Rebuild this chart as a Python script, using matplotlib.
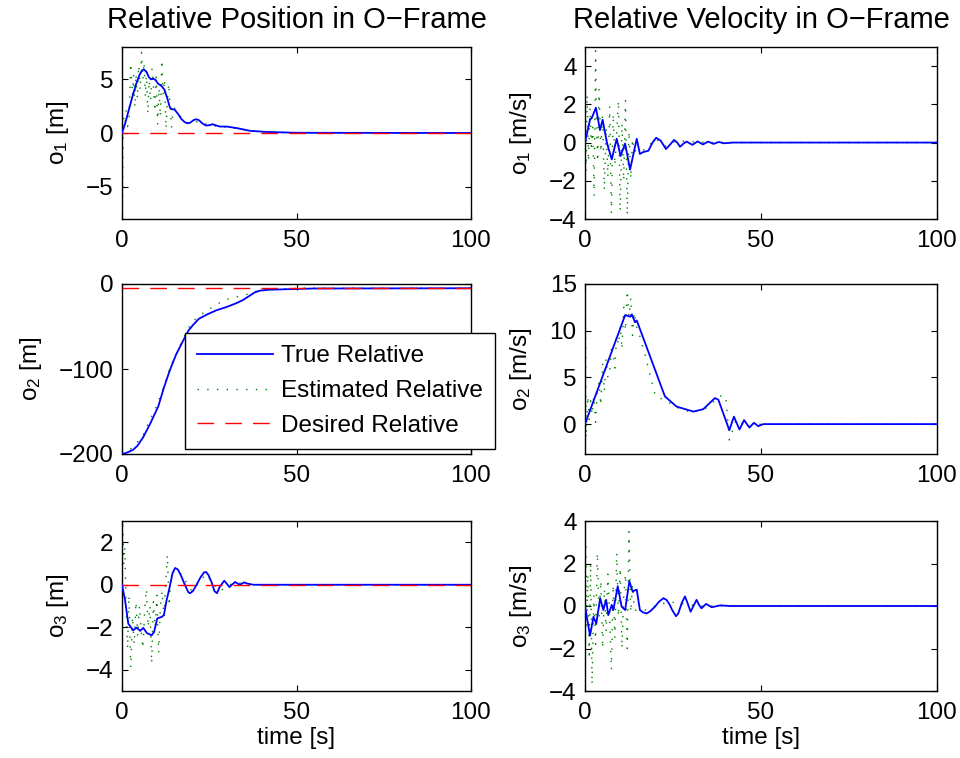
import matplotlib
matplotlib.use("Agg")
import matplotlib.pyplot as plt
import numpy as np

plt.rcParams['font.family'] = ['Liberation Sans', 'DejaVu Sans']
plt.rcParams['mathtext.fontset'] = 'custom'
plt.rcParams['mathtext.rm'] = 'Liberation Sans'
plt.rcParams['mathtext.it'] = 'Liberation Sans'
plt.rcParams['font.size'] = 17.5

# ---- relative position, o1 ----
pos1_t = [0, 1, 2, 3, 4, 5, 5.8, 6.3, 7, 7.7, 8.3, 9, 9.7, 10.3, 11.4, 12.2, 13, 13.7, 14.3, 15, 16, 17, 18, 18.8, 19.5, 20.5, 21.3, 22, 23, 24, 25, 26, 27, 28, 30, 33, 36.7, 41.5, 50, 100]
pos1_true = [0, 1.0, 2.2, 3.4, 4.5, 5.4, 5.85, 5.9, 5.7, 5.2, 5.0, 5.05, 4.9, 4.6, 4.35, 4.0, 3.2, 2.4, 2.2, 2.2, 1.8, 1.3, 1.0, 0.9, 0.95, 1.2, 1.28, 1.2, 0.9, 0.7, 0.72, 0.82, 0.7, 0.6, 0.6, 0.45, 0.2, 0.1, 0.02, 0.0]
pos1_est_t = [0, 0.1, 0.3, 0.5, 0.8, 1.2, 1.6, 2.0, 2.5, 3.0, 3.3, 3.7, 4.0, 4.4, 4.8, 5.2, 5.6, 6.0, 6.3, 6.7, 7.0, 7.4, 7.8, 8.2, 8.6, 9.0, 9.4, 9.8, 10.2, 10.6, 11.0, 11.4, 11.8, 12.2, 12.6, 13.0, 13.4, 13.8, 14.2, 14.6, 15, 16, 18, 20, 22, 25, 28, 31, 35, 40, 50, 100]
pos1_est = [0, -7.5, -1.0, 1.5, 0.5, 2.2, 0.6, 1.0, 6.5, 3.5, 5.4, 2.4, 5.5, 3.2, 6.3, 4.0, 7.5, 5.0, 6.6, 3.4, 5.8, 1.8, 4.9, 3.0, 6.0, 4.5, 2.0, 5.2, 0.8, 4.2, 1.5, 6.8, 3.6, 5.0, 0.4, 3.0, 4.6, 2.4, 0.5, 2.0, 2.3, 1.9, 1.0, 0.9, 1.1, 0.7, 0.6, 0.5, 0.3, 0.1, 0.0, 0.0]
pos1_des = [0, 0]

# ---- relative position, o2 ----
pos2_t = [0, 1, 2.2, 3.2, 4.5, 6.1, 8, 10.4, 12, 13.75, 15.5, 17.6, 19, 20.4, 22, 24.3, 27, 30, 32.5, 34.6, 36.5, 38, 39.5, 42, 45.8, 55, 100]
pos2_true = [-200, -199, -197, -195, -190, -180, -165, -144, -122, -101, -83, -66, -55, -48, -41, -36, -31, -27, -23, -19, -14, -10, -7.8, -6.8, -6.3, -5.3, -5]
pos2_est_t = [0, 1, 2, 3, 4, 5, 6, 8, 10, 12, 14, 16, 18, 20, 22, 24, 26, 28, 30, 32, 34, 36, 38, 40, 45, 50, 100]
pos2_est = [-200, -198, -196, -192, -188, -183, -178, -160, -143, -120, -96, -78, -60, -45, -38, -32, -27, -22, -18, -16, -14, -12, -9, -7, -6, -5, -5]
pos2_des = [-4.7, -4.7]

# ---- relative position, o3 ----
pos3_t = [0, 0.86, 1.8, 3.2, 4.2, 5.2, 6.1, 7.1, 8.5, 9.2, 10.1, 11.4, 12, 12.8, 13.4, 14.5, 15.2, 16, 17, 18, 19, 19.5, 20.3, 21.2, 22.5, 23.5, 24.1, 24.8, 25.7, 26.5, 27.2, 28, 29.3, 30, 30.8, 31.5, 32.4, 33.2, 33.8, 35, 36, 37.7, 100]
pos3_true = [0, -0.71, -1.83, -2.14, -2.02, -2.17, -2.03, -2.27, -2.38, -2.22, -1.59, -1.51, -1.43, -0.71, -0.3, 0.55, 0.79, 0.72, 0.4, 0.0, -0.35, -0.4, -0.3, -0.05, 0.35, 0.58, 0.6, 0.45, 0.1, -0.3, -0.4, -0.1, 0.19, 0.05, -0.11, 0.0, 0.13, 0.05, 0.0, 0.11, 0.05, 0.0, 0.0]
pos3_est_t = [0, 0.2, 0.5, 0.8, 1.2, 1.6, 2.0, 2.5, 3.0, 3.5, 4.0, 4.5, 5.0, 5.5, 6.0, 6.5, 7.0, 7.5, 8.0, 8.5, 9.0, 9.5, 10.0, 10.5, 11.0, 11.5, 12.0, 12.5, 13.0, 13.5, 14.0, 15, 17, 20, 24, 28, 32, 36, 40, 100]
pos3_est = [0, 2.8, 1.0, 1.8, -1.2, -3.0, -0.5, -3.9, -1.5, -2.8, -0.8, -2.4, -1.0, -2.2, -3.0, -1.2, -0.2, -2.0, -1.0, -3.7, -0.8, -2.0, -0.5, -3.2, -1.0, -0.3, -1.5, 0.0, 1.4, -1.0, 0.3, 0.7, 0.5, -0.3, 0.5, -0.3, 0.1, 0.05, 0.0, 0.0]
pos3_des = [0, 0]

# ---- relative velocity, o1 ----
vel1_t = [0, 1.42, 1.9, 3.1, 4.26, 5.0, 6.3, 7.6, 9.0, 10.1, 11.4, 12.8, 14.7, 15.6, 16.5, 18, 19.2, 20.2, 21.5, 23, 24.2, 25.3, 26.2, 27, 28, 28.9, 30.5, 32, 33.5, 35, 36.5, 38, 39.5, 42, 100]
vel1_true = [0, 1.19, 1.28, 1.82, 0.65, 1.19, -0.07, -0.88, 0.2, -0.7, -0.05, -1.42, 0.2, -0.6, -0.5, -0.43, 0.0, 0.25, 0.1, -0.34, -0.1, 0.14, 0.0, -0.22, -0.05, 0.05, -0.12, 0.06, -0.1, 0.05, -0.07, 0.03, -0.04, 0.0, 0.0]
vel1_est_t = [0, 0.3, 0.6, 1.0, 1.4, 1.8, 2.2, 2.6, 3.0, 3.3, 3.6, 4.0, 4.5, 5.0, 5.5, 6.0, 6.5, 7.0, 7.5, 8.0, 8.5, 9.0, 9.5, 10.0, 10.5, 11.0, 11.5, 12.0, 12.5, 13.0, 13.5, 14.0, 15, 17, 20, 23, 26, 30, 35, 40, 45, 100]
vel1_est = [0, -1.5, 2.5, -1.0, 1.8, -0.2, 0.8, -2.8, 4.8, 0.5, -1.0, 2.8, -0.5, 1.5, -2.5, 0.8, -1.8, 1.9, -3.7, 1.5, -1.2, 0.5, 2.2, -3.6, 1.0, -2.0, 2.2, -3.8, 0.6, -1.9, 0.2, -0.5, -0.3, -0.4, 0.2, -0.2, 0.1, 0.05, 0.0, 0.0, 0.0, 0.0]

# ---- relative velocity, o2 ----
vel2_t = [0, 11.4, 12.8, 13.3, 14.2, 14.7, 22.7, 26, 30.8, 33.6, 36.9, 37.9, 41, 42.3, 43.9, 45.2, 46.7, 48, 49.2, 50.6, 100]
vel2_true = [0, 11.67, 11.5, 11.75, 10.9, 11.1, 2.97, 1.88, 1.34, 1.6, 2.79, 2.6, -0.65, 0.8, -0.58, 0.43, -0.37, 0.14, -0.22, 0.0, 0.0]
vel2_est_t = [0, 0.1, 0.3, 0.8, 1.2, 1.6, 2.0, 2.5, 3.0, 3.5, 4.0, 4.5, 5.0, 5.5, 6.0, 6.5, 7.0, 7.5, 8.0, 8.5, 9.0, 9.5, 10.0, 10.5, 11.0, 11.5, 12.0, 12.5, 13.0, 13.5, 14.0, 14.5, 15, 17, 20, 23, 26, 30, 34, 36, 38, 40, 41, 43, 46, 50, 100]
vel2_est = [0, 14.0, -1.5, 3.0, 0.5, 2.5, 1.0, 3.0, 0.2, 3.5, 4.5, 2.0, 6.5, 3.5, 7.0, 5.0, 5.5, 8.0, 7.5, 6.0, 9.5, 8.5, 10.5, 8.0, 12.5, 10.0, 14.3, 11.5, 13.5, 9.5, 12.0, 10.5, 10.2, 7.5, 3.0, 2.5, 1.8, 1.3, 1.6, 2.2, 3.0, 3.0, -1.7, 0.5, -0.3, 0.0, 0.0]

# ---- relative velocity, o3 ----
vel3_t = [0, 1.42, 2.4, 3.2, 4.3, 5.2, 6.0, 6.6, 7.6, 8.05, 9.3, 10.4, 11.4, 12.6, 13.5, 14.7, 15.6, 16.5, 17.5, 18.5, 19.9, 21, 22.3, 23.2, 24.1, 24.8, 25.85, 26.5, 27.5, 28.4, 29, 30, 30.8, 31.7, 32.4, 33.1, 34.4, 36, 38.4, 41.2, 100]
vel3_true = [0, -1.4, -0.51, -0.83, 0.37, -0.19, 0.29, -0.43, 0.05, -0.19, 0.93, -0.03, -0.19, 1.17, 0.69, 0.77, -0.19, -0.3, -0.35, -0.25, -0.03, 0.2, 0.37, 0.28, 0.05, -0.2, -0.48, -0.35, 0.15, 0.45, 0.2, -0.27, 0.0, 0.29, 0.05, -0.11, 0.1, -0.06, 0.03, 0.0, 0.0]
vel3_est_t = [0, 0.2, 0.5, 0.8, 1.2, 1.6, 2.0, 2.5, 3.0, 3.5, 4.0, 4.5, 5.0, 5.5, 6.0, 6.5, 7.0, 7.5, 8.0, 8.5, 9.0, 9.5, 10.0, 10.5, 11.0, 11.5, 12.0, 12.5, 13.0, 13.5, 14.0, 15, 17, 20, 24, 28, 32, 36, 40, 100]
vel3_est = [0, 3.0, -1.0, 1.5, -2.5, 2.0, -3.7, 0.5, -1.8, 2.5, -0.5, 1.2, -2.0, 0.8, -1.2, 1.5, -0.4, -3.0, 1.0, -1.5, 2.5, -0.5, 1.8, -2.0, 0.5, 1.5, -2.0, 3.5, -0.3, 1.0, -0.2, -0.2, -0.2, 0.0, 0.2, 0.1, 0.0, 0.0, 0.0, 0.0]

des_t = [0, 100]

BLUE = '#0000ff'
GREEN = '#008000'
RED = '#ff0000'
EST_STYLE = (0, (1, 6))
DES_STYLE = (0, (12, 8))


def style_axes(ax, ylim, yticks, ylabel, xlabel=None):
    ax.set_xlim(0, 100)
    ax.set_xticks([0, 50, 100])
    ax.set_ylim(*ylim)
    ax.set_yticks(yticks)
    ax.set_ylabel(ylabel, labelpad=11)
    if xlabel:
        ax.set_xlabel(xlabel, labelpad=2)
    ax.tick_params(direction='in', length=4, width=0.8, top=True, right=True)
    ax.tick_params(axis='x', pad=8)
    ax.tick_params(axis='y', pad=6)
    for sp in ax.spines.values():
        sp.set_linewidth(1.0)


fig = plt.figure(figsize=(9.6, 7.58), dpi=100)

lefts = [122 / 960, 585 / 960]
widths = [349 / 960, 352 / 960]
bottoms = [1 - 219 / 758, 1 - 454 / 758, 1 - 691 / 758]
heights = [172 / 758, 170 / 758, 170 / 758]

axes = [[fig.add_axes([lefts[c], bottoms[r], widths[c], heights[r]]) for c in range(2)] for r in range(3)]

pos_data = [
    (pos1_t, pos1_true, pos1_est_t, pos1_est, pos1_des),
    (pos2_t, pos2_true, pos2_est_t, pos2_est, pos2_des),
    (pos3_t, pos3_true, pos3_est_t, pos3_est, pos3_des),
]
vel_data = [
    (vel1_t, vel1_true, vel1_est_t, vel1_est),
    (vel2_t, vel2_true, vel2_est_t, vel2_est),
    (vel3_t, vel3_true, vel3_est_t, vel3_est),
]

handles = None
for r, (t, tr, et, es, de) in enumerate(pos_data):
    ax = axes[r][0]
    h1, = ax.plot(t, tr, color=BLUE, lw=1.3, label='True Relative', zorder=3)
    h2, = ax.plot(et, es, color=GREEN, lw=1.0, linestyle=EST_STYLE, label='Estimated Relative', zorder=2)
    h3, = ax.plot(des_t, de, color=RED, lw=1.0, linestyle=DES_STYLE, label='Desired Relative', zorder=4)
    if r == 1:
        handles = [h1, h2, h3]

for r, (t, tr, et, es) in enumerate(vel_data):
    ax = axes[r][1]
    ax.plot(t, tr, color=BLUE, lw=1.3, zorder=3)
    ax.plot(et, es, color=GREEN, lw=1.0, linestyle=EST_STYLE, zorder=2)

style_axes(axes[0][0], (-8, 8), [-5, 0, 5], r'o$_1$ [m]')
style_axes(axes[1][0], (-200, 0), [-200, -100, 0], r'o$_2$ [m]')
style_axes(axes[2][0], (-5, 3), [-4, -2, 0, 2], r'o$_3$ [m]', 'time [s]')
style_axes(axes[0][1], (-4, 5), [-4, -2, 0, 2, 4], r'o$_1$ [m/s]')
style_axes(axes[1][1], (-3.2, 15), [0, 5, 10, 15], r'o$_2$ [m/s]')
style_axes(axes[2][1], (-4, 4), [-4, -2, 0, 2, 4], r'o$_3$ [m/s]', 'time [s]')

axes[0][0].set_title('Relative Position in O\u2212Frame', pad=14)
axes[0][1].set_title('Relative Velocity in O\u2212Frame', pad=14)

leg = fig.legend(handles=handles, loc='upper left', bbox_to_anchor=(185 / 960, 1 - 333 / 758),
                 borderaxespad=0, frameon=True, fancybox=False, edgecolor='black', framealpha=1,
                 handlelength=3.1, borderpad=0.5, labelspacing=0.53, handletextpad=0.35, fontsize=17.5)
leg.get_frame().set_linewidth(1.0)

fig.savefig('out.png', dpi=100)
